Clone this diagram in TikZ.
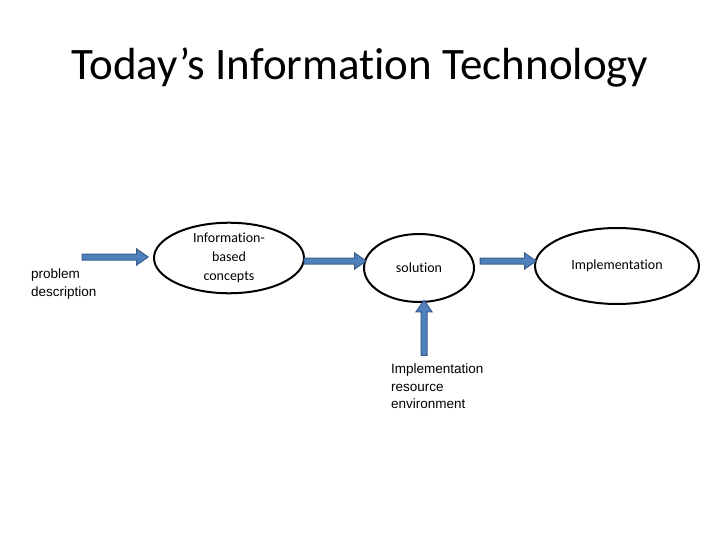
\documentclass[tikz,border=0pt]{standalone}
\usepackage{fontspec}
\setmainfont{Carlito}[Ligatures=NoCommon]
\newfontfamily\arialf{Liberation Sans}
\usetikzlibrary{shapes.arrows,shapes.geometric}
\definecolor{afill}{HTML}{4F81BD}
\definecolor{aline}{HTML}{385D8A}
\begin{document}
\begin{tikzpicture}[x=1pt,y=-1pt,
  blk/.style={single arrow, fill=afill, draw=aline, line width=1pt, inner sep=2.5pt,
    minimum width=16pt, single arrow head extend=5pt, single arrow tip angle=70},
  ell/.style={ellipse, draw=black, line width=2pt, inner sep=0pt, align=center, font=\fontsize{14}{19}\selectfont},
  plain/.style={align=left, font=\arialf\fontsize{13.5}{17.5}\selectfont, inner sep=0pt}]
\useasboundingbox (0,0) rectangle (720,540);
\node (title) at (360,68) {\fontsize{45}{52}\selectfont Today’s Information Technology};
\node[plain, anchor=west] (prob) at (31,284) {problem\\description};
\node[ell, minimum width=150pt, minimum height=69pt] (ibc) at (229,258) {Information-\\based\\concepts};
\node[ell, minimum width=110pt, minimum height=68pt] (sol) at (419,268) {solution};
\node[ell, minimum width=164pt, minimum height=76pt] (impl) at (617,266) {Implementation};
\node[plain, anchor=north west] (env) at (391,364) {Implementation\\resource\\environment};
\node[blk, minimum height=66pt] (a1) at (113,257) {};
\node[blk, minimum height=62pt] (a2) at (333,261) {};
\node[blk, minimum height=56pt] (a3) at (506,261) {};
\node[blk, minimum height=55pt, rotate=90] (a4) at (424,330) {};
\end{tikzpicture}
\end{document}
